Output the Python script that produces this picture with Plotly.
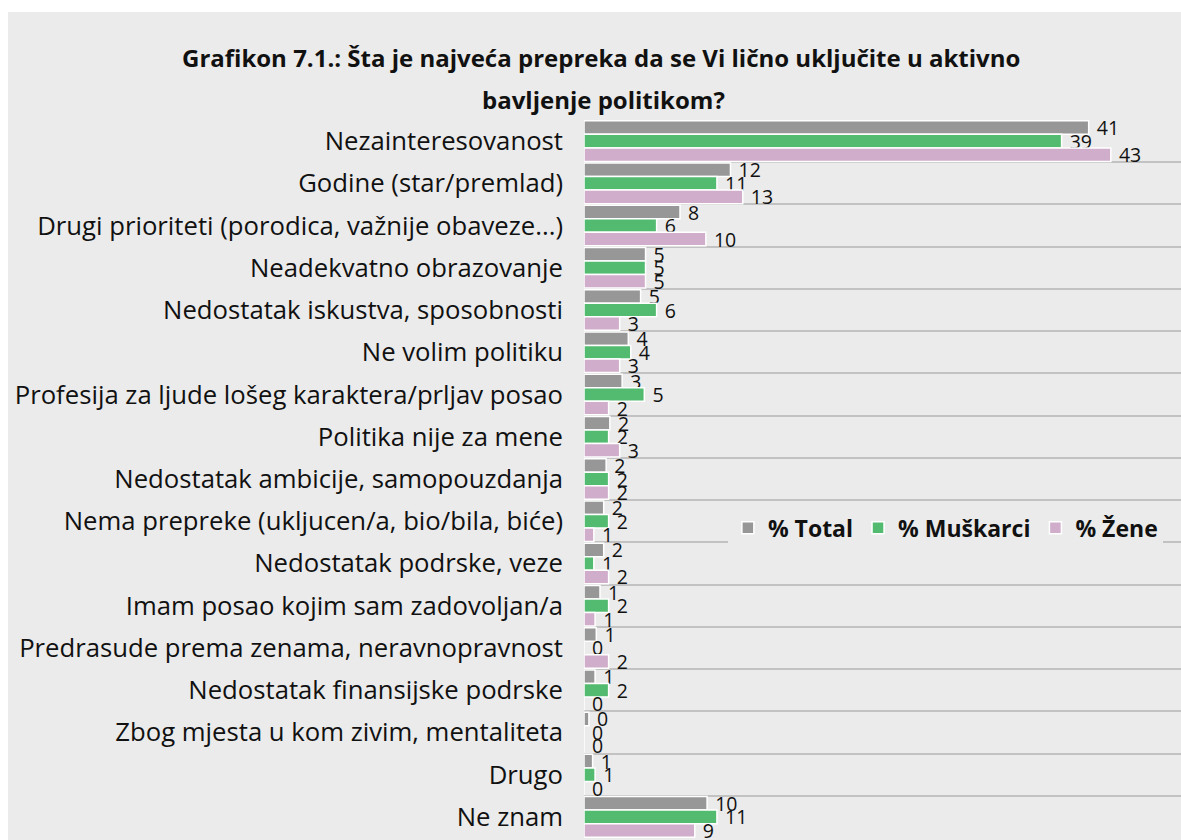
import plotly.graph_objects as go

categories = [
    "Nezainteresovanost",
    "Godine (star/premlad)",
    "Drugi prioriteti (porodica, važnije obaveze...)",
    "Neadekvatno obrazovanje",
    "Nedostatak iskustva, sposobnosti",
    "Ne volim politiku",
    "Profesija za ljude lošeg karaktera/prljav posao",
    "Politika nije za mene",
    "Nedostatak ambicije, samopouzdanja",
    "Nema prepreke (ukljucen/a, bio/bila, biće)",
    "Nedostatak podrske, veze",
    "Imam posao kojim sam zadovoljan/a",
    "Predrasude prema zenama, neravnopravnost",
    "Nedostatak finansijske podrske",
    "Zbog mjesta u kom zivim, mentaliteta",
    "Drugo",
    "Ne znam",
]
total = [41.0, 11.9, 7.8, 5.0, 4.6, 3.6, 3.1, 2.1, 1.8, 1.6, 1.6, 1.3, 1.0, 0.9, 0.4, 0.7, 10.0]
muskarci = [38.8, 10.8, 5.9, 5.0, 5.9, 3.8, 4.9, 2.0, 2.0, 2.0, 0.8, 2.0, 0.0, 2.0, 0.0, 0.9, 10.8]
zene = [42.8, 12.9, 9.9, 5.0, 2.9, 2.9, 2.0, 2.9, 2.0, 0.8, 2.0, 0.9, 2.0, 0.0, 0.0, 0.0, 9.0]

series = [
    ("% Total", total, "#979797"),
    ("% Muškarci", muskarci, "#53bb70"),
    ("% Žene", zene, "#d0aecb"),
]

FONT = "Open Sans"
W, H = 1181, 840
ML, MR, MT, MB = 584, 0, 120, 2
PW, PH = W - ML - MR, H - MT - MB

fig = go.Figure()
for name, vals, color in series:
    fig.add_trace(go.Bar(
        y=categories, x=vals, name=name, orientation="h",
        marker=dict(color=color, line=dict(color="white", width=1.5)),
        texttemplate=" %{x:.0f}", textposition="outside",
        constraintext="none", cliponaxis=False,
        textfont=dict(family=FONT, size=19.5, color="#111111"),
    ))

fig.update_layout(
    width=W, height=H,
    margin=dict(l=ML, r=MR, t=MT, b=MB, pad=0),
    barmode="group", bargap=0.04, bargroupgap=0,
    paper_bgcolor="white", plot_bgcolor="#ebebeb",
    font=dict(family=FONT, color="#111111"),
    showlegend=True,
    legend=dict(
        orientation="h", x=0.241, y=0.432, xanchor="left", yanchor="middle",
        bgcolor="#ebebeb", font=dict(family=FONT, size=23, color="#111111", weight="bold"),
        traceorder="normal",
    ),
    xaxis=dict(range=[0, 48.5], showgrid=False, zeroline=False, showticklabels=False,
               showline=False, fixedrange=True),
    yaxis=dict(type="category", autorange="reversed", tickson="boundaries",
               showgrid=True, gridcolor="#c2c2c2", gridwidth=1.5,
               ticks="", showline=False, zeroline=False, ticklabelstandoff=20,
               tickfont=dict(family=FONT, size=25.7, color="#111111")),
    shapes=[dict(
        type="rect", xref="paper", yref="paper", layer="below",
        x0=(8 - ML) / PW, x1=1.0, y0=-MB / PH, y1=(H - MB - 12) / PH,
        fillcolor="#ebebeb", line=dict(width=0),
    )],
    annotations=[
        dict(text="Grafikon 7.1.: Šta je najveća prepreka da se Vi lično uključite u aktivno",
             xref="paper", yref="paper", x=(601 - ML) / PW, y=(H - MB - 58) / PH,
             xanchor="center", yanchor="middle", showarrow=False,
             font=dict(family=FONT, size=24, color="#111111", weight="bold")),
        dict(text="bavljenje politikom?",
             xref="paper", yref="paper", x=(603 - ML) / PW, y=(H - MB - 100) / PH,
             xanchor="center", yanchor="middle", showarrow=False,
             font=dict(family=FONT, size=24, color="#111111", weight="bold")),
    ],
)

fig.write_html(
    "out.html",
    config={"displayModeBar": False},
    post_script="document.body.style.margin='0';document.body.style.overflow='hidden';",
)
